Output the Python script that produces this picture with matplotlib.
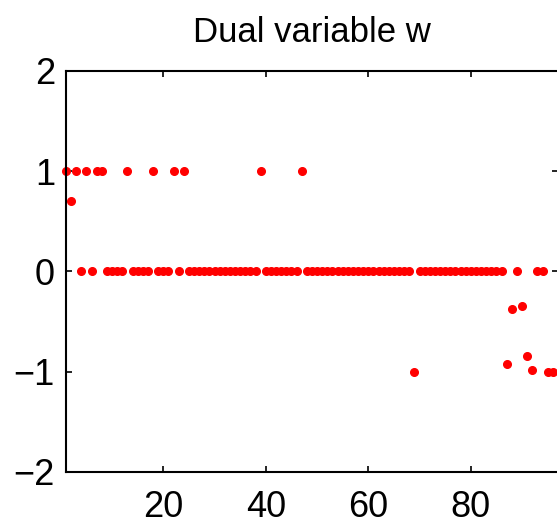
import numpy as np
import matplotlib.pyplot as plt

plt.rcParams['font.family'] = ['Liberation Sans', 'DejaVu Sans']

# dual variable w, one value per index 1..96
w = [1, 0.70, 1, 0, 1, 0, 1, 1, 0, 0,
     0, 0, 1, 0, 0, 0, 0, 1, 0, 0,
     0, 1, 0, 1, 0, 0, 0, 0, 0, 0,
     0, 0, 0, 0, 0, 0, 0, 0, 1, 0,
     0, 0, 0, 0, 0, 0, 1, 0, 0, 0,
     0, 0, 0, 0, 0, 0, 0, 0, 0, 0,
     0, 0, 0, 0, 0, 0, 0, 0, -1, 0,
     0, 0, 0, 0, 0, 0, 0, 0, 0, 0,
     0, 0, 0, 0, 0, 0, -0.92, -0.37, 0, -0.34,
     -0.84, -0.98, 0, 0, -1, -1]
idx = np.arange(1, len(w) + 1)

x_ticks = [20, 40, 60, 80]
y_ticks = [-2, -1, 0, 1, 2]

fig = plt.figure(figsize=(5.57, 5.29), dpi=100)
ax = fig.add_axes([0.1185, 0.1078, 0.884, 0.758])

ax.plot(idx, w, '.', color='#ff0000', markersize=11, clip_on=False)

ax.set_xlim(1, 97.1)
ax.set_ylim(-2, 2)
ax.set_xticks(x_ticks)
ax.set_yticks(y_ticks)
ax.set_yticklabels(['\u22122', '\u22121', '0', '1', '2'])
ax.tick_params(direction='in', length=4, width=1.2, labelsize=26,
               top=True, right=True)
ax.tick_params(axis='y', pad=8)
ax.tick_params(axis='x', pad=13)
for s in ax.spines.values():
    s.set_linewidth(1.5)

ax.set_title('Dual variable w', fontsize=25, pad=21)

fig.savefig('out.png', dpi=100)
